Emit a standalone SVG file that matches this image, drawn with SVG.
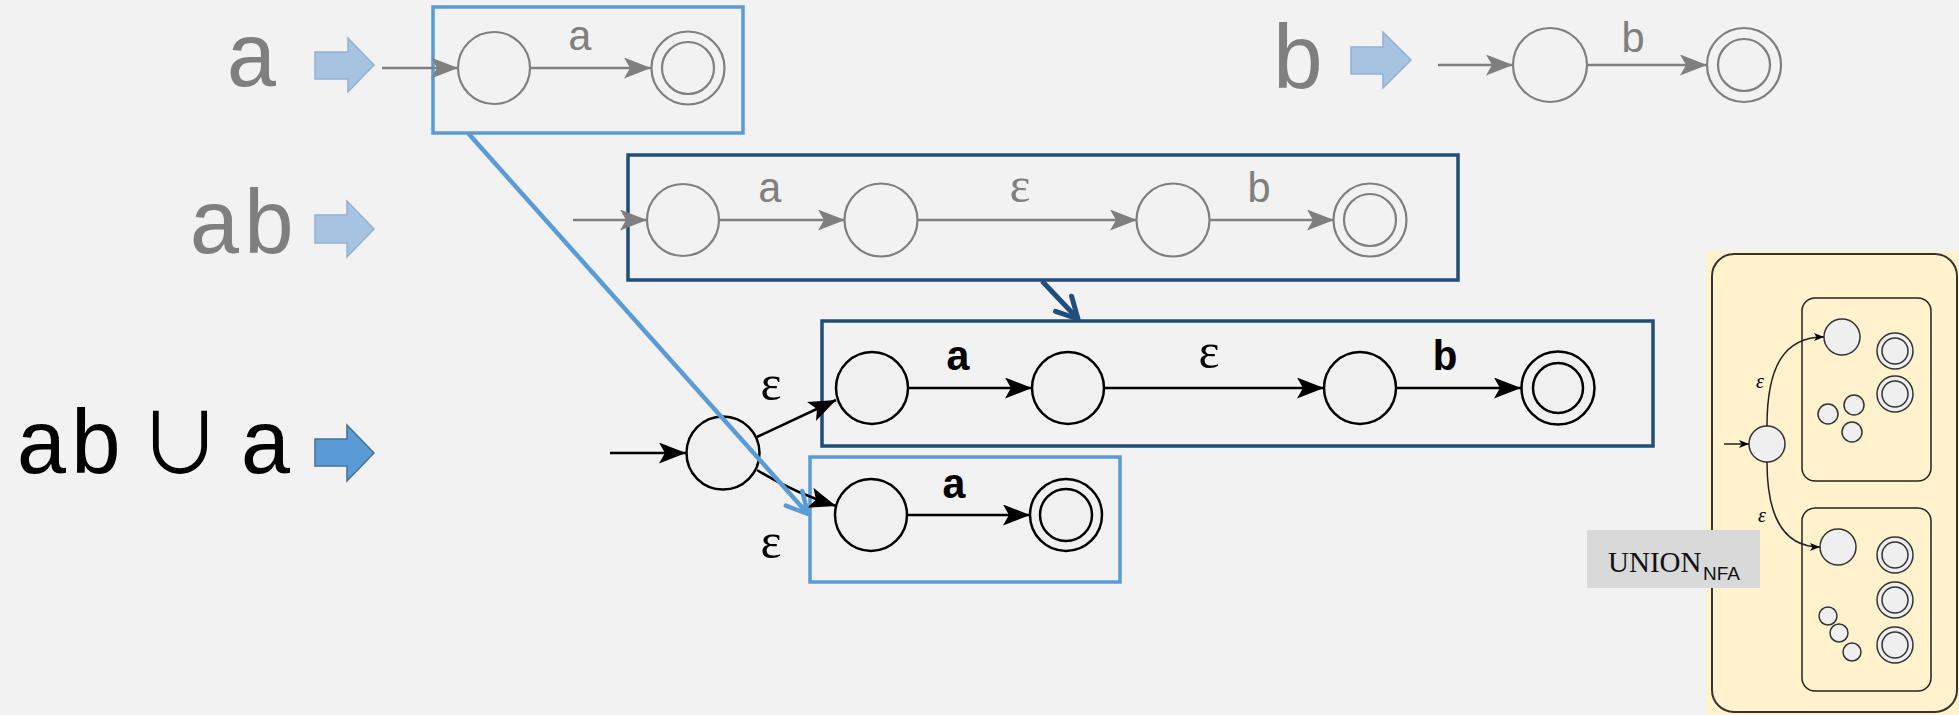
<svg xmlns="http://www.w3.org/2000/svg" width="1959" height="715" viewBox="0 0 1959 715">
<style>
.bg{fill:#f2f2f2}
.big{font-family:"Liberation Mono",monospace;font-size:90px;text-anchor:middle}
.gtxt{fill:#7f7f7f}
.lbl{font-family:"Liberation Mono",monospace;font-size:42px;text-anchor:middle}
.lblb{font-family:"Liberation Mono",monospace;font-size:42px;font-weight:bold;text-anchor:middle;fill:#000}
.eps{font-family:"Liberation Serif",serif;font-size:50px;text-anchor:middle}
.gn{fill:#f2f2f2;stroke:#7f7f7f;stroke-width:2.2}
.bn{fill:#f0f0f0;stroke:#000;stroke-width:2.5}
.ge{fill:none;stroke:#7f7f7f;stroke-width:2.5;marker-end:url(#ag)}
.be{fill:none;stroke:#000;stroke-width:2.5;marker-end:url(#ab)}
.lbox{fill:none;stroke:#5b9bd5;stroke-width:3.5}
.dbox{fill:none;stroke:#1f4e79;stroke-width:3.5}
.blk1{fill:#a6c3e2;stroke:#93b1d4;stroke-width:1.5}
.blk2{fill:#5b9bd5;stroke:#41719c;stroke-width:1.5}
.yn{fill:#efefef;stroke:#333;stroke-width:1.5}
.ye{fill:none;stroke:#222;stroke-width:1.5;marker-end:url(#as)}
.yeps{font-family:"Liberation Serif",serif;font-style:italic;font-size:20px;text-anchor:middle}
</style>
<defs>
<marker id="ag" markerUnits="userSpaceOnUse" markerWidth="27" markerHeight="21" refX="27" refY="10.5" orient="auto" viewBox="0 0 27 21"><path d="M0,0 L27,10.5 L0,21 L6,10.5 Z" fill="#7f7f7f"/></marker>
<marker id="ab" markerUnits="userSpaceOnUse" markerWidth="27" markerHeight="21" refX="27" refY="10.5" orient="auto" viewBox="0 0 27 21"><path d="M0,0 L27,10.5 L0,21 L6,10.5 Z" fill="#000"/></marker>
<marker id="as" markerUnits="userSpaceOnUse" markerWidth="10" markerHeight="8" refX="10" refY="4" orient="auto" viewBox="0 0 10 8"><path d="M0,0 L10,4 L0,8 L2.5,4 Z" fill="#000"/></marker>
<marker id="cl" markerUnits="userSpaceOnUse" markerWidth="28" markerHeight="28" refX="24" refY="14" orient="auto" viewBox="0 0 28 28"><path d="M3,3 L24,14 L3,25" fill="none" stroke="#5b9bd5" stroke-width="4.5" stroke-linecap="round" stroke-linejoin="round"/></marker>
<marker id="cd" markerUnits="userSpaceOnUse" markerWidth="28" markerHeight="28" refX="24" refY="14" orient="auto" viewBox="0 0 28 28"><path d="M3,3 L24,14 L3,25" fill="none" stroke="#1f4e79" stroke-width="5" stroke-linecap="round" stroke-linejoin="round"/></marker>
</defs>
<rect class="bg" x="0" y="0" width="1959" height="715"/>

<g id="titles">
<text class="big gtxt" x="252" y="86">a</text>
<text class="big gtxt" x="1298" y="88">b</text>
<text class="big gtxt" x="242" y="253">ab</text>
<text class="big" fill="#000" y="473"><tspan x="69">ab</tspan><tspan x="266">a</tspan></text>
<text x="180" y="474" font-family="'Noto Sans CJK SC','DejaVu Sans',sans-serif" font-size="84" text-anchor="middle" fill="#000">∪</text>
</g>

<g id="block-arrows">
<polygon class="blk1" points="315,52 348,52 348,38 374,65 348,92 348,79 315,79"/>
<polygon class="blk1" points="1351,47 1383,47 1383,32 1411,60 1383,88 1383,74 1351,74"/>
<polygon class="blk1" points="315,215 347,215 347,201 374,229 347,257 347,243 315,243"/>
<polygon class="blk2" points="315,439 347,439 347,425 374,453 347,481 347,466 315,466"/>
</g>

<g id="frames">
<rect id="box-a" class="lbox" x="433" y="7" width="310" height="126"/>
<rect id="box-ab" class="dbox" x="628" y="155" width="830" height="125"/>
<rect id="box-ab2" class="dbox" x="822" y="321" width="831" height="125"/>
<rect id="box-a2" class="lbox" x="810" y="457" width="310" height="125"/>
</g>

<g id="n-a0"><circle class="gn" cx="494" cy="68" r="36"/></g>
<g id="n-a1"><circle class="gn" cx="688" cy="68" r="36.5"/><circle class="gn" cx="688" cy="68" r="26"/></g>
<g id="n-b0"><circle class="gn" cx="1550" cy="65" r="37"/></g>
<g id="n-b1"><circle class="gn" cx="1744" cy="65" r="37"/><circle class="gn" cx="1744" cy="65" r="26"/></g>
<g id="n-ab0"><circle class="gn" cx="683" cy="220" r="36"/></g>
<g id="n-ab1"><circle class="gn" cx="881" cy="220" r="36.5"/></g>
<g id="n-ab2"><circle class="gn" cx="1173" cy="220" r="36.5"/></g>
<g id="n-ab3"><circle class="gn" cx="1370" cy="220" r="36.5"/><circle class="gn" cx="1370" cy="220" r="26"/></g>
<g id="n-u0"><circle class="bn" cx="723" cy="453" r="36.5"/></g>
<g id="n-u1"><circle class="bn" cx="872" cy="388" r="36"/></g>
<g id="n-u2"><circle class="bn" cx="1068" cy="388" r="36"/></g>
<g id="n-u3"><circle class="bn" cx="1360" cy="388" r="36"/></g>
<g id="n-u4"><circle class="bn" cx="1558" cy="388" r="36.5"/><circle class="bn" cx="1558" cy="388" r="25"/></g>
<g id="n-u5"><circle class="bn" cx="871" cy="515" r="36"/></g>
<g id="n-u6"><circle class="bn" cx="1066" cy="515" r="36"/><circle class="bn" cx="1066" cy="515" r="26"/></g>

<g id="union-panel">
<rect x="1706" y="251" width="253" height="464" fill="#fff2cc"/>
<rect x="1712" y="254" width="245" height="458" rx="22" fill="#fff2cc" stroke="#333" stroke-width="2"/>
<rect x="1802" y="298" width="129" height="183" rx="13" fill="none" stroke="#222" stroke-width="1.5"/>
<rect x="1802" y="508" width="129" height="183" rx="13" fill="none" stroke="#222" stroke-width="1.5"/>
<text class="yeps" x="1760" y="388">ε</text>
<text class="yeps" x="1762" y="522">ε</text>
<circle class="yn" cx="1767" cy="444" r="18"/>
<circle class="yn" cx="1842" cy="337" r="18"/>
<circle class="yn" cx="1895" cy="351" r="18"/><circle class="yn" cx="1895" cy="351" r="13"/>
<circle class="yn" cx="1895" cy="394" r="18"/><circle class="yn" cx="1895" cy="394" r="13"/>
<circle class="yn" cx="1828" cy="414" r="10"/>
<circle class="yn" cx="1854" cy="405" r="10"/>
<circle class="yn" cx="1852" cy="432" r="10"/>
<circle class="yn" cx="1838" cy="547" r="18"/>
<circle class="yn" cx="1895" cy="555" r="18"/><circle class="yn" cx="1895" cy="555" r="13"/>
<circle class="yn" cx="1895" cy="600" r="18"/><circle class="yn" cx="1895" cy="600" r="13"/>
<circle class="yn" cx="1895" cy="645" r="18"/><circle class="yn" cx="1895" cy="645" r="13"/>
<circle class="yn" cx="1828" cy="616" r="9"/>
<circle class="yn" cx="1839" cy="633" r="9"/>
<circle class="yn" cx="1852" cy="652" r="9"/>
<rect x="1587" y="530" width="173" height="58" fill="#d9d9d9"/>
<text font-family="'Liberation Serif',serif" font-size="29" fill="#111"><tspan x="1608" y="572">UNION</tspan><tspan x="1703" y="580" font-family="'Liberation Sans',sans-serif" font-size="19">NFA</tspan></text>
</g>

<g id="connectors">
<path class="ge" d="M382,68 L458,68"/>
<path class="ge" d="M530,68 L651,68"/>
<path class="ge" d="M1438,65 L1513,65"/>
<path class="ge" d="M1587,65 L1707,65"/>
<path class="ge" d="M573,220 L647,220"/>
<path class="ge" d="M719,220 L845,220"/>
<path class="ge" d="M918,220 L1137,220"/>
<path class="ge" d="M1210,220 L1334,220"/>
<path class="be" d="M610,453 L686,453"/>
<path class="be" d="M757,437 L836,400"/>
<path class="be" d="M757,470 Q792,492 836,506"/>
<path class="be" d="M908,388 L1032,388"/>
<path class="be" d="M1104,388 L1324,388"/>
<path class="be" d="M1396,388 L1521,388"/>
<path class="be" d="M907,515 L1030,515"/>
<path class="ye" d="M1724,444 L1749,444"/>
<path class="ye" d="M1767,426 C1767,365 1785,337 1824,337"/>
<path class="ye" d="M1767,462 C1767,520 1785,547 1820,547"/>
<path d="M468,133 L808,514" fill="none" stroke="#5b9bd5" stroke-width="4.5" marker-end="url(#cl)"/>
<path d="M1042,281 L1078,319" fill="none" stroke="#1f4e79" stroke-width="5" marker-end="url(#cd)"/>
</g>

<g id="edge-labels">
<text class="lbl gtxt" x="580" y="50">a</text>
<text class="lbl gtxt" x="1633" y="52">b</text>
<text class="lbl gtxt" x="770" y="202">a</text>
<text class="eps gtxt" x="1020" y="202">ε</text>
<text class="lbl gtxt" x="1259" y="202">b</text>
<text class="lblb" x="958" y="370">a</text>
<text class="eps" fill="#000" x="1209" y="368">ε</text>
<text class="lblb" x="1445" y="370">b</text>
<text class="lblb" x="954" y="498">a</text>
<text class="eps" fill="#000" x="771" y="400">ε</text>
<text class="eps" fill="#000" x="771" y="558">ε</text>
</g>
</svg>
